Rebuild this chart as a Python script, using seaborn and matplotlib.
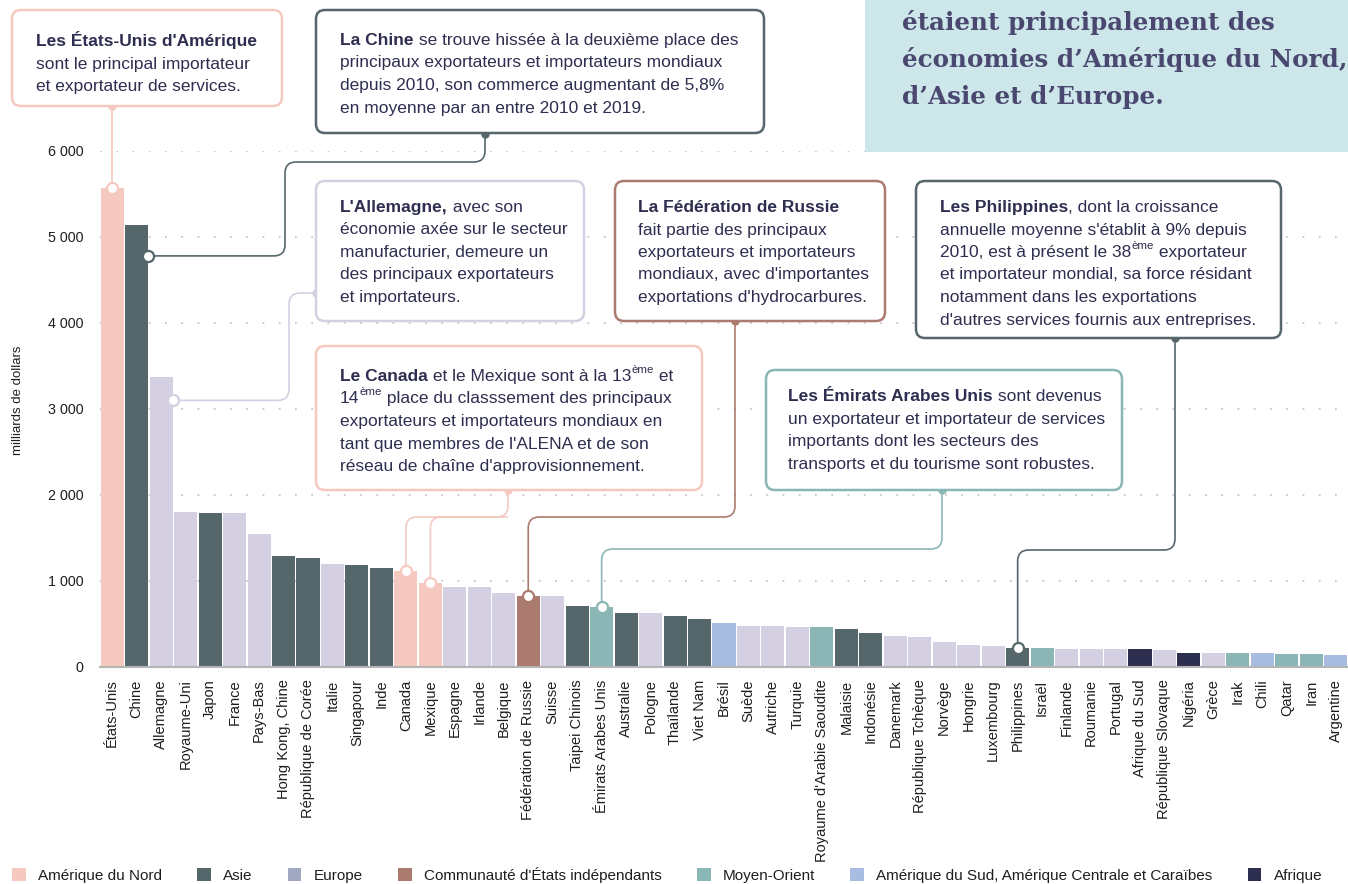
import matplotlib

matplotlib.use("Agg", force=True)

import matplotlib.pyplot as plt
import numpy as np
import pandas as pd
import seaborn as sns
from matplotlib import transforms
from matplotlib.lines import Line2D
from matplotlib.patches import FancyBboxPatch, Patch, PathPatch, Rectangle
from matplotlib.path import Path
from matplotlib.text import Annotation

# ---- data (milliards de dollars) ----
countries = [
    "États-Unis", "Chine", "Allemagne", "Royaume-Uni", "Japon", "France", "Pays-Bas",
    "Hong Kong, Chine", "République de Corée", "Italie", "Singapour", "Inde", "Canada",
    "Mexique", "Espagne", "Irlande", "Belgique", "Fédération de Russie", "Suisse",
    "Taipei Chinois", "Émirats Arabes Unis", "Australie", "Pologne", "Thaïlande",
    "Viet Nam", "Brésil", "Suède", "Autriche", "Turquie", "Royaume d'Arabie Saoudite",
    "Malaisie", "Indonésie", "Danemark", "République Tchèque", "Norvège", "Hongrie",
    "Luxembourg", "Philippines", "Israël", "Finlande", "Roumanie", "Portugal",
    "Afrique du Sud", "République Slovaque", "Nigéria", "Grèce", "Irak", "Chili",
    "Qatar", "Iran", "Argentine",
]
values = [
    5570, 5140, 3370, 1800, 1790, 1790, 1550, 1290, 1270, 1200, 1185, 1150, 1115,
    980, 930, 930, 860, 825, 825, 710, 700, 630, 630, 590, 560, 510, 475, 475,
    465, 465, 440, 395, 360, 350, 290, 255, 245, 220, 220, 210, 210, 210, 210,
    200, 165, 165, 165, 165, 150, 150, 140,
]
NA, AS, EU, CEI, MO, AMS, AF = (
    "Amérique du Nord", "Asie", "Europe", "Communauté d'États indépendants",
    "Moyen-Orient", "Amérique du Sud, Amérique Centrale et Caraïbes", "Afrique",
)
regions = [
    NA, AS, EU, EU, AS, EU, EU, AS, AS, EU, AS, AS, NA, NA, EU, EU, EU, CEI, EU,
    AS, MO, AS, EU, AS, AS, AMS, EU, EU, EU, MO, AS, AS, EU, EU, EU, EU, EU, AS,
    MO, EU, EU, EU, AF, EU, AF, EU, MO, AMS, MO, MO, AMS,
]
legend_order = [NA, AS, EU, CEI, MO, AMS, AF]
bar_colors = {NA: "#f5c9bf", AS: "#56676b", EU: "#d4d0e1", CEI: "#ab7b70",
              MO: "#8ab6b5", AMS: "#a9bce2", AF: "#2e2e50"}
legend_colors = {**bar_colors, EU: "#a0a8c2"}

y_ticks = [0, 1000, 2000, 3000, 4000, 5000, 6000]
y_tick_labels = ["0", "1 000", "2 000", "3 000", "4 000", "5 000", "6 000"]

df = pd.DataFrame({"pays": countries, "valeur": values, "region": regions})

W, H = 1348, 884
TXT = "#2e2e50"

sns.set_style("white")
plt.rcParams["font.family"] = ["Liberation Sans", "DejaVu Sans"]

fig = plt.figure(figsize=(W / 100, H / 100), dpi=100)
ax = fig.add_axes([100 / W, (H - 667) / H, (W - 100) / W, (667 - 151) / H])

sns.barplot(data=df, x="pays", y="valeur", hue="region", palette=bar_colors,
            dodge=False, width=0.94, saturation=1, legend=False, ax=ax, zorder=2,
            linewidth=0)
ax.set_xlim(-0.5, len(countries) - 0.5)
ax.set_ylim(0, 6000)
ax.set_yticks(y_ticks)
ax.set_yticklabels(y_tick_labels)
ax.set_xlabel("")
ax.set_ylabel("")
ax.grid(axis="y", color="#c8c8c8", linestyle=(0, (1, 8)), linewidth=1.3)
ax.grid(axis="x", visible=False)
ax.set_axisbelow(True)
for s in ["top", "right", "left"]:
    ax.spines[s].set_visible(False)
ax.spines["bottom"].set_color("#b5b5b5")
ax.spines["bottom"].set_linewidth(1.5)
ax.tick_params(axis="x", rotation=90, length=0, pad=9, labelsize=10.5, labelcolor="#1e1e1e")
ax.tick_params(axis="y", length=0, pad=12, labelsize=10.3, labelcolor="#1e1e1e")

fig.text(18 / W, 1 - 400 / H, "milliards de dollars", rotation=90, ha="center",
         va="center", fontsize=9.5, color="#1e1e1e")

# pixel coordinates, origin at top-left
px = transforms.Affine2D().scale(1 / W, -1 / H).translate(0, 1) + fig.transFigure


def bar_point(name, dx=0.0, frac=1.0):
    i = countries.index(name)
    x, y = ax.transData.transform((i + dx, values[i] * frac))
    return (x, H - y)


def rounded(points, r=11):
    verts, codes = [points[0]], [Path.MOVETO]
    for k in range(1, len(points) - 1):
        p0, p1, p2 = (np.array(points[k - 1], float), np.array(points[k], float),
                      np.array(points[k + 1], float))
        l1, l2 = np.linalg.norm(p1 - p0), np.linalg.norm(p2 - p1)
        rr = min(r, l1 / 2, l2 / 2)
        a = p1 - (p1 - p0) / l1 * rr
        b = p1 + (p2 - p1) / l2 * rr
        verts += [tuple(a), tuple(p1), tuple(b)]
        codes += [Path.LINETO, Path.CURVE3, Path.CURVE3]
    verts.append(points[-1])
    codes.append(Path.LINETO)
    return Path(verts, codes)


def connector(points, color, nub=True):
    fig.add_artist(PathPatch(rounded(points), transform=px, fill=False,
                             edgecolor=color, linewidth=1.2, zorder=3))
    if nub:
        fig.add_artist(Line2D([points[0][0]], [points[0][1]], transform=px, marker="o",
                              markersize=5, color=color, linestyle="none", zorder=3))
    fig.add_artist(Line2D([points[-1][0]], [points[-1][1]], transform=px, marker="o",
                          markersize=8, markerfacecolor="white", markeredgecolor=color,
                          markeredgewidth=1.6, linestyle="none", zorder=5))


def box(x0, y0, x1, y1, color):
    fig.add_artist(FancyBboxPatch((x0, y0), x1 - x0, y1 - y0, transform=px,
                                  boxstyle="round,pad=0,rounding_size=9",
                                  facecolor="white", edgecolor=color, linewidth=1.8,
                                  zorder=4))


def rich_line(x, y, segs, size=12.5):
    first, kind = segs[0]
    base = fig.text(x / W, 1 - (y + 6) / H, first, fontsize=size, color=TXT,
                    fontweight="bold" if kind == "b" else "normal",
                    ha="left", va="baseline", zorder=6)
    prev = base
    for s, kind in segs[1:]:
        if kind == "sup":
            ann = Annotation(s, xy=(1, 0), xycoords=(prev, base), xytext=(0.3, 6.5),
                             textcoords="offset points", fontsize=size * 0.66,
                             color=TXT, ha="left", va="bottom", zorder=6)
        else:
            ann = Annotation(s, xy=(1, 0), xycoords=(prev, base), fontsize=size,
                             color=TXT, fontweight="bold" if kind == "b" else "normal",
                             ha="left", va="bottom", zorder=6)
        fig.add_artist(ann)
        prev = ann


def text_block(x, y, lines, step=22.5):
    for k, ln in enumerate(lines):
        segs = [(ln, "n")] if isinstance(ln, str) else ln
        rich_line(x, y + k * step, segs)


# ---- title panel ----
fig.add_artist(Rectangle((865, 0), W - 865, 152, transform=px, facecolor="#cde6e9",
                         edgecolor="none", zorder=1))
for k, ln in enumerate(["étaient principalement des",
                        "économies d’Amérique du Nord,",
                        "d’Asie et d’Europe."]):
    fig.text(902 / W, 1 - (30 + 37 * k) / H, ln, fontsize=17.7, fontweight="bold",
             family="DejaVu Serif", color="#4a4870", ha="left", va="baseline", zorder=2)

# ---- connectors ----
pink, dark, lav, brown, teal = "#f5c9bf", "#56676b", "#d4d0e1", "#ab7b70", "#8ab6b5"
us = bar_point("États-Unis")
connector([(us[0], 106), us], pink)
ch = bar_point("Chine", dx=0.47, frac=0.93)
connector([(485, 134), (485, 162), (285, 162), (285, ch[1]), ch], dark)
de = bar_point("Allemagne", dx=0.47, frac=0.92)
connector([(316, 293), (289, 293), (289, de[1]), de], lav)
ca = bar_point("Canada")
mx = bar_point("Mexique")
connector([(508, 490), (508, 517), (mx[0], 517), mx], pink)
connector([(508, 517), (ca[0], 517), ca], pink, nub=False)
ru = bar_point("Fédération de Russie")
connector([(735, 321), (735, 517), (ru[0], 517), ru], brown)
ae = bar_point("Émirats Arabes Unis")
connector([(942, 490), (942, 549), (ae[0], 549), ae], teal)
ph = bar_point("Philippines")
connector([(1175, 338), (1175, 550), (ph[0], 550), ph], dark)

# ---- annotation boxes ----
box(12, 10, 282, 106, pink)
text_block(36, 40, [[("Les États-Unis d'Amérique", "b")],
                    "sont le principal importateur",
                    "et exportateur de services."])

box(316, 10, 764, 133, dark)
text_block(340, 39, [[("La Chine", "b"), (" se trouve hissée à la deuxième place des", "n")],
                     "principaux exportateurs et importateurs mondiaux",
                     "depuis 2010, son commerce augmentant de 5,8%",
                     "en moyenne par an entre 2010 et 2019."])

box(316, 181, 584, 321, lav)
text_block(340, 206, [[("L'Allemagne,", "b"), (" avec son", "n")],
                      "économie axée sur le secteur",
                      "manufacturier, demeure un",
                      "des principaux exportateurs",
                      "et importateurs."])

box(316, 346, 702, 490, pink)
text_block(340, 375, [[("Le Canada", "b"), (" et le Mexique sont à la 13", "n"),
                       ("ème", "sup"), (" et", "n")],
                      [("14", "n"), ("ème", "sup"), (" place du classsement des principaux", "n")],
                      "exportateurs et importateurs mondiaux en",
                      "tant que membres de l'ALENA et de son",
                      "réseau de chaîne d'approvisionnement."])

box(615, 181, 885, 321, brown)
text_block(638, 206, [[("La Fédération de Russie", "b")],
                      "fait partie des principaux",
                      "exportateurs et importateurs",
                      "mondiaux, avec d'importantes",
                      "exportations d'hydrocarbures."])

box(766, 370, 1122, 490, teal)
text_block(788, 395, [[("Les Émirats Arabes Unis", "b"), (" sont devenus", "n")],
                      "un exportateur et importateur de services",
                      "importants dont les secteurs des",
                      "transports et du tourisme sont robustes."])

box(916, 181, 1281, 338, dark)
text_block(940, 206, [[("Les Philippines", "b"), (", dont la croissance", "n")],
                      "annuelle moyenne s'établit à 9% depuis",
                      [("2010, est à présent le 38", "n"), ("ème", "sup"), (" exportateur", "n")],
                      "et importateur mondial, sa force résidant",
                      "notamment dans les exportations",
                      "d'autres services fournis aux entreprises."])

# ---- legend ----
handles = [Patch(facecolor=legend_colors[r], edgecolor="none", label=r) for r in legend_order]
fig.legend(handles=handles, loc="center left", bbox_to_anchor=(12 / W, 1 - 875 / H),
           ncol=7, frameon=False, fontsize=11, handlelength=0.9, handleheight=0.9,
           handletextpad=0.8, columnspacing=2.3, borderpad=0, borderaxespad=0,
           labelcolor="#1e1e1e")

fig.savefig("out.png", dpi=100)
